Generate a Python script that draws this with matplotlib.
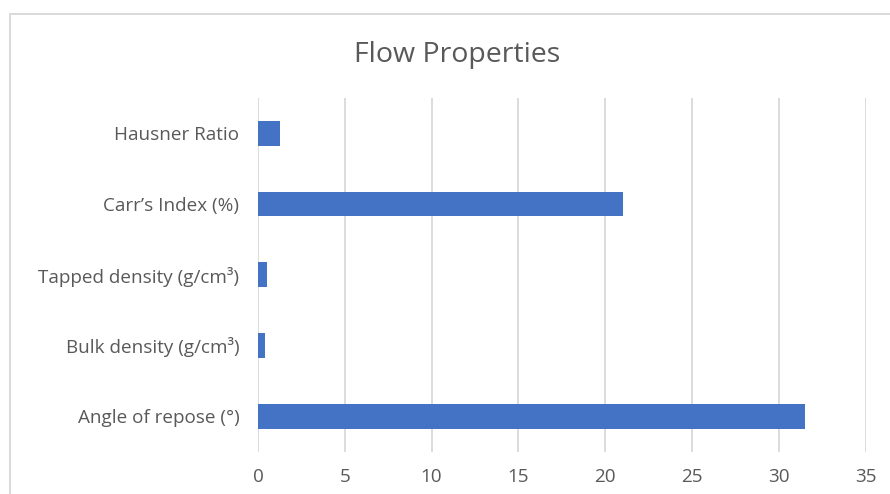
import matplotlib.pyplot as plt
from matplotlib.patches import Rectangle

plt.rcParams['font.family'] = ['Open Sans', 'DejaVu Sans']

# flow property measurements (bottom to top)
properties = ["Angle of repose (°)", "Bulk density (g/cm³)", "Tapped density (g/cm³)",
              "Carr’s Index (%)", "Hausner Ratio"]
values = [31.5, 0.41, 0.54, 21.05, 1.28]

grey_txt = "#595959"
grid_col = "#d9d9d9"

fig = plt.figure(figsize=(8.9, 4.94), dpi=100)
ax = fig.add_axes([0.2899, 0.086, 0.6828, 0.7156])

ypos = range(len(properties))
ax.barh(ypos, values, height=0.35, color="#4472C4", zorder=3)

ax.set_xlim(0, 35)
ax.set_ylim(-0.5, len(properties) - 0.5)
ax.set_xticks(range(0, 36, 5))
ax.set_yticks(list(ypos))
ax.set_yticklabels(properties)
ax.tick_params(axis="both", length=0, labelsize=13.6, colors=grey_txt)
ax.tick_params(axis="y", pad=13.5)
ax.tick_params(axis="x", pad=12)
ax.xaxis.grid(True, color=grid_col, linewidth=1.3, zorder=0)
for s in ax.spines.values():
    s.set_visible(False)

# chart-area border (right/bottom edges fall outside the canvas)
fig.patches.append(Rectangle((10 / 890, -0.1), 1.2, 1 - 14 / 494 + 0.1,
                             transform=fig.transFigure, fill=False,
                             edgecolor=grid_col, linewidth=1.4))

fig.text(457 / 890, 1 - 62 / 494, "Flow Properties", ha="center", va="baseline",
         fontsize=20.5, color=grey_txt)

fig.savefig("out.png", dpi=100)
